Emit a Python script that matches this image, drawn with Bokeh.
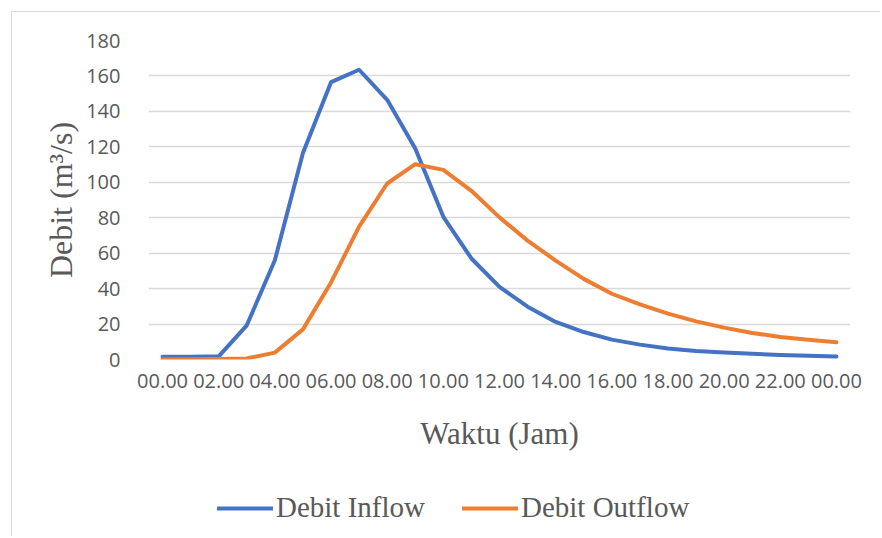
from bokeh.plotting import figure
from bokeh.layouts import column
from bokeh.models import Legend, LegendItem, FixedTicker, Range1d
from bokeh.embed import file_html
from bokeh.resources import INLINE

hours = list(range(25))
x_tick_labels = ["00.00", "02.00", "04.00", "06.00", "08.00", "10.00", "12.00",
                 "14.00", "16.00", "18.00", "20.00", "22.00", "00.00"]
debit_inflow = [1.5, 1.5, 1.8, 19.3, 56.0, 116.5, 156.5, 163.5, 146.5, 119.0, 80.5,
                57.0, 41.0, 29.8, 21.2, 15.5, 11.2, 8.4, 6.2, 4.8, 3.9, 3.2, 2.6, 2.1, 1.7]
debit_outflow = [0.2, 0.2, 0.3, 0.6, 3.9, 17.0, 43.5, 75.0, 99.3, 110.2, 107.0,
                 95.2, 80.2, 67.1, 55.8, 45.5, 37.1, 31.1, 25.9, 21.5, 18.0, 15.0,
                 12.7, 11.2, 9.7]
y_ticks = [0, 20, 40, 60, 80, 100, 120, 140, 160, 180]
series_names = ["Debit Inflow", "Debit Outflow"]

BLUE = "#4472C4"
ORANGE = "#ED7D31"
GRID = "#D9D9D9"
TXT = "#595959"
SERIF = "Liberation Serif"
SANS = "Open Sans"

p = figure(width=868, height=450, output_backend="svg", toolbar_location=None,
           x_range=Range1d(-0.5, 24.5), y_range=Range1d(0, 180),
           min_border_left=136, min_border_right=30, min_border_top=28,
           min_border_bottom=103)
p.frame_align = False
p.outline_line_color = None
p.background_fill_color = "white"
p.border_fill_color = "white"

p.line(hours, debit_inflow, line_color=BLUE, line_width=4,
       line_join="round", line_cap="round")
p.line(hours, debit_outflow, line_color=ORANGE, line_width=4,
       line_join="round", line_cap="round")

p.xaxis.ticker = FixedTicker(ticks=hours[::2])
p.xaxis.major_label_overrides = {h: lab for h, lab in zip(hours[::2], x_tick_labels)}
p.yaxis.ticker = FixedTicker(ticks=y_ticks)
for ax in (p.xaxis, p.yaxis):
    ax.axis_line_color = None
    ax.major_tick_line_color = None
    ax.minor_tick_line_color = None
    ax.major_label_text_font = SANS
    ax.major_label_text_font_size = "20px"
    ax.major_label_text_color = TXT
    ax.axis_label_text_font = SERIF
    ax.axis_label_text_font_style = "normal"
    ax.axis_label_text_color = TXT
p.xaxis.axis_label = "Waktu (Jam)"
p.yaxis.axis_label = "Debit (m³/s)"
p.xaxis.axis_label_text_font_size = "31px"
p.yaxis.axis_label_text_font_size = "32px"
p.xaxis.major_label_standoff = 8
p.xaxis.axis_label_standoff = 25
p.yaxis.major_label_standoff = 22
p.yaxis.axis_label_standoff = 4

p.xgrid.grid_line_color = None
p.ygrid.ticker = FixedTicker(ticks=y_ticks)
p.ygrid.grid_line_color = GRID
p.ygrid.grid_line_width = 1.3

# legend strip below the chart (its own series renderers lie outside its view)
pl = figure(width=868, height=74, output_backend="svg", toolbar_location=None,
            x_range=Range1d(-100, -99), y_range=Range1d(-100, -99),
            x_axis_location=None, y_axis_location=None,
            min_border_left=0, min_border_right=0, min_border_top=0,
            min_border_bottom=0)
pl.frame_align = False
pl.outline_line_color = None
pl.grid.grid_line_color = None
pl.border_fill_color = "white"
l_in = pl.line(hours, debit_inflow, line_color=BLUE, line_width=4, line_cap="round")
l_out = pl.line(hours, debit_outflow, line_color=ORANGE, line_width=4, line_cap="round")

legend = Legend(items=[LegendItem(label=series_names[0], renderers=[l_in]),
                       LegendItem(label=series_names[1], renderers=[l_out])],
                location=(205, 12), orientation="horizontal", spacing=37,
                label_standoff=3, glyph_width=56, glyph_height=20, padding=0,
                margin=0, border_line_color=None, background_fill_alpha=0,
                label_text_font=SERIF, label_text_font_size="29px",
                label_text_color=TXT)
pl.add_layout(legend, "center")

layout = column(p, pl, spacing=0)
layout.styles = {"border-left": "1px solid #D9D9D9", "border-top": "1px solid #D9D9D9",
                 "margin-left": "11px", "margin-top": "11px"}

open("out.html", "w").write(file_html(layout, INLINE))
